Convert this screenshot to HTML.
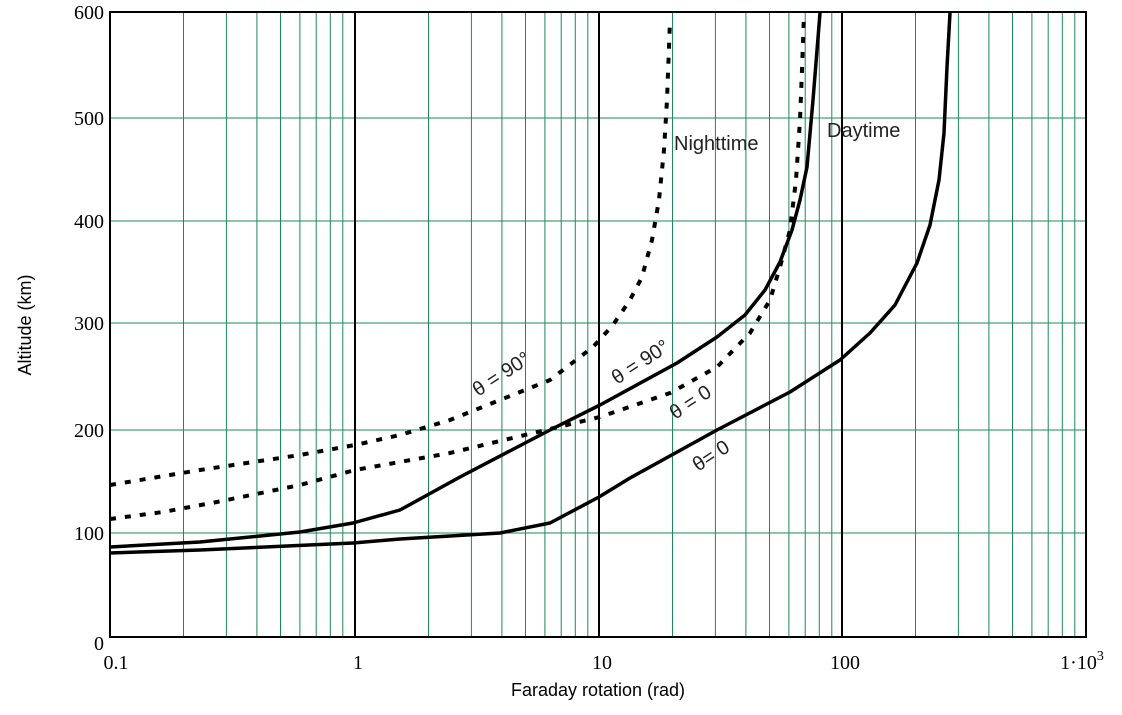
<!DOCTYPE html>
<html><head><meta charset="utf-8"><style>body{margin:0;background:#fff}svg{display:block}</style></head>
<body>
<svg width="1122" height="715" xmlns="http://www.w3.org/2000/svg">
<g id="grid" stroke="#1a8a5a" stroke-width="1">
<line x1="110" x2="1086" y1="533" y2="533"/><line x1="110" x2="1086" y1="430" y2="430"/>
<line x1="110" x2="1086" y1="323" y2="323"/><line x1="110" x2="1086" y1="221" y2="221"/>
<line x1="110" x2="1086" y1="118" y2="118"/>
</g>
<g stroke="#1a8a5a" stroke-width="1">
<line x1="183.5" x2="183.5" y1="12" y2="637"/><line x1="226.4" x2="226.4" y1="12" y2="637"/><line x1="256.9" x2="256.9" y1="12" y2="637"/><line x1="280.5" x2="280.5" y1="12" y2="637"/><line x1="299.9" x2="299.9" y1="12" y2="637"/><line x1="316.2" x2="316.2" y1="12" y2="637"/><line x1="330.3" x2="330.3" y1="12" y2="637"/><line x1="342.8" x2="342.8" y1="12" y2="637"/>
<line x1="428.5" x2="428.5" y1="12" y2="637"/><line x1="471.4" x2="471.4" y1="12" y2="637"/><line x1="501.9" x2="501.9" y1="12" y2="637"/><line x1="525.5" x2="525.5" y1="12" y2="637"/><line x1="544.9" x2="544.9" y1="12" y2="637"/><line x1="561.2" x2="561.2" y1="12" y2="637"/><line x1="575.3" x2="575.3" y1="12" y2="637"/><line x1="587.8" x2="587.8" y1="12" y2="637"/>
<line x1="672.5" x2="672.5" y1="12" y2="637"/><line x1="715.4" x2="715.4" y1="12" y2="637"/><line x1="745.9" x2="745.9" y1="12" y2="637"/><line x1="769.5" x2="769.5" y1="12" y2="637"/><line x1="788.9" x2="788.9" y1="12" y2="637"/><line x1="805.2" x2="805.2" y1="12" y2="637"/><line x1="819.3" x2="819.3" y1="12" y2="637"/><line x1="831.8" x2="831.8" y1="12" y2="637"/>
<line x1="915.5" x2="915.5" y1="12" y2="637"/><line x1="958.4" x2="958.4" y1="12" y2="637"/><line x1="988.9" x2="988.9" y1="12" y2="637"/><line x1="1012.5" x2="1012.5" y1="12" y2="637"/><line x1="1031.9" x2="1031.9" y1="12" y2="637"/><line x1="1048.2" x2="1048.2" y1="12" y2="637"/><line x1="1062.3" x2="1062.3" y1="12" y2="637"/><line x1="1074.8" x2="1074.8" y1="12" y2="637"/>
</g>
<g stroke="#000" stroke-width="2">
<line x1="355" x2="355" y1="12" y2="637"/><line x1="599" x2="599" y1="12" y2="637"/><line x1="842" x2="842" y1="12" y2="637"/>
<rect x="110" y="12" width="976" height="625" fill="none"/>
</g>
<g fill="none" stroke="#000" stroke-width="3.5" stroke-linejoin="round">
<path d="M110,547 L200,542 L300,532 L353,523 L400,510 L460,477 L550,430 L600,405 L677,363 L717,337 L745,315 L765,290 L780,262 L792,230 L800,200 L807,167 L813,100 L820,13"/>
<path d="M110,553 L200,550 L353,543 L400,539 L500,533 L550,523 L599,497 L630,478 L717,430 L790,392 L840,360 L870,333 L895,305 L917,263 L930,225 L939,180 L944,133 L947,67 L950,13"/>
</g>
<g fill="none" stroke="#000" stroke-width="4" stroke-dasharray="6 9">
<path d="M110,485 L200,470 L300,455 L355,445 L400,435 L450,420 L550,380 L593,347 L613,325 L630,300 L642,277 L652,240 L659,200 L664,150 L667,100 L670,20"/>
<path d="M110,519 L163,512 L217,502 L300,485 L355,470 L450,453 L600,417 L670,393 L717,367 L750,333 L770,300 L780,267 L790,230 L796,180 L800,120 L802,70 L804,13"/>
</g>
<g font-family="Liberation Sans, sans-serif" font-size="20" fill="#222">
<text x="674" y="150">Nighttime</text>
<text x="827" y="137">Daytime</text>
<text transform="translate(478,397) rotate(-33)">θ = 90°</text>
<text transform="translate(617,385) rotate(-33)">θ = 90°</text>
<text transform="translate(675,420) rotate(-33)">θ = 0</text>
<text transform="translate(698,472) rotate(-33)">θ= 0</text>
</g>
<g font-family="Liberation Serif, serif" font-size="20" fill="#000">
<text x="104" y="19" text-anchor="end">600</text>
<text x="104" y="125" text-anchor="end">500</text>
<text x="104" y="228" text-anchor="end">400</text>
<text x="104" y="330" text-anchor="end">300</text>
<text x="104" y="437" text-anchor="end">200</text>
<text x="104" y="540" text-anchor="end">100</text>
<text x="104" y="650" text-anchor="end">0</text>
<text x="116" y="669" text-anchor="middle">0.1</text>
<text x="358" y="669" text-anchor="middle">1</text>
<text x="602" y="669" text-anchor="middle">10</text>
<text x="845" y="669" text-anchor="middle">100</text>
<text x="1082" y="669" text-anchor="middle">1·10<tspan dy="-9" font-size="14">3</tspan></text>
</g>
<g font-family="Liberation Sans, sans-serif" font-size="18" fill="#000">
<text x="598" y="696" text-anchor="middle">Faraday rotation (rad)</text>
<text transform="translate(31,325) rotate(-90)" text-anchor="middle">Altitude (km)</text>
</g>
</svg>
</body></html>
